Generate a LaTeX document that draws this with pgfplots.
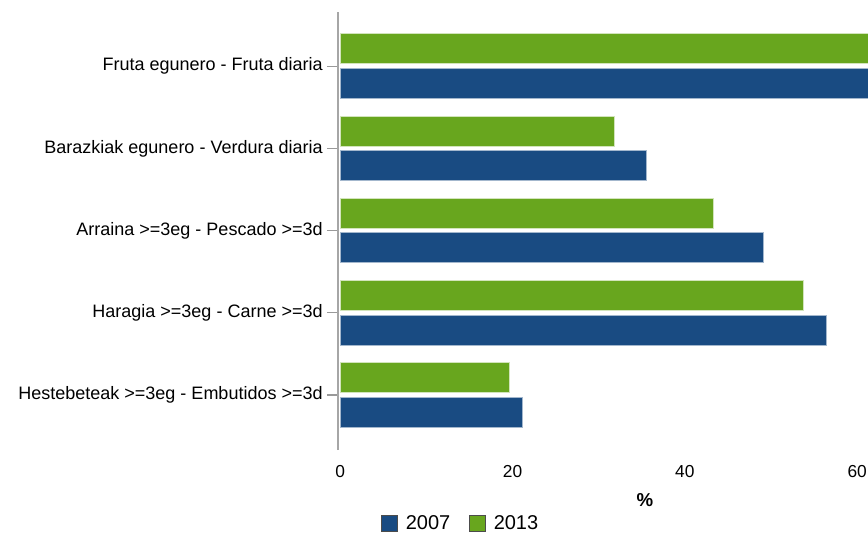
\documentclass[border=0pt]{standalone}
\usepackage{pgfplots}
\pgfplotsset{compat=1.18}
\usepackage{fontspec}
\setmainfont{Liberation Sans}
\definecolor{c2007}{HTML}{194B82}
\definecolor{c2013}{HTML}{68A61E}
\begin{document}
\begin{tikzpicture}
% picture is 868x533 px, 1px = 0.75pt; axis bottom-left at (338,450) px
\useasboundingbox (-253.5pt,-62.25pt) rectangle (397.5pt,337.5pt);
\clip (-253.5pt,-62.25pt) rectangle (397.5pt,337.5pt);
\begin{axis}[
    at={(0pt,0pt)}, anchor=south west,
    scale only axis,
    width=397.5pt, height=328.5pt,
    xbar,
    bar width=22.5pt,
    xmin=-0.25, xmax=61.25,
    ymin=-0.67, ymax=4.66,
    ytick={0,1,2,3,4},
    yticklabels={Hestebeteak >=3eg - Embutidos >=3d,
                 Haragia >=3eg - Carne >=3d,
                 Arraina >=3eg - Pescado >=3d,
                 Barazkiak egunero - Verdura diaria,
                 Fruta egunero - Fruta diaria},
    xtick={0,20,40,60},
    axis x line=none,
    axis y line*=left,
    y axis line style={draw=black!35, line width=1pt, -},
    ytick style={draw=black!40, line width=1pt},
    tick align=outside,
    major tick length=8pt,
    xtick style={draw=none},
    /pgf/number format/assume math mode=true,
    yticklabel style={font=\fontsize{13.5}{15}\selectfont},
    xticklabel style={font=\fontsize{13}{15}\selectfont, anchor=north, yshift=0pt},
    hide x axis=false,
    x axis line style={draw=none},
    legend style={at={(0.232,-0.167)}, anchor=center, draw=none,
        legend columns=-1, font=\fontsize{15}{17}\selectfont,
        /tikz/every odd column/.append style={column sep=4pt},
        /tikz/every even column/.append style={column sep=12pt}},
    legend image code/.code={\draw[#1, draw=black!70, line width=0.6pt] (0pt,-6pt) rectangle (12pt,6pt);},
    reverse legend,
]
\addplot[fill=c2013, draw=white!70!c2013, line width=0.8pt, bar shift=13pt]
    coordinates {(19.7,0) (53.8,1) (43.3,2) (31.8,3) (65,4)};
\addplot[fill=c2007, draw=white!60!c2007, line width=0.8pt, bar shift=-13pt]
    coordinates {(21.2,0) (56.4,1) (49.1,2) (35.6,3) (68,4)};
\legend{2013, 2007}
\end{axis}
\node[font=\bfseries\fontsize{14}{16}\selectfont] at (230.25pt,-37.5pt) {\%};
\end{tikzpicture}
\end{document}
